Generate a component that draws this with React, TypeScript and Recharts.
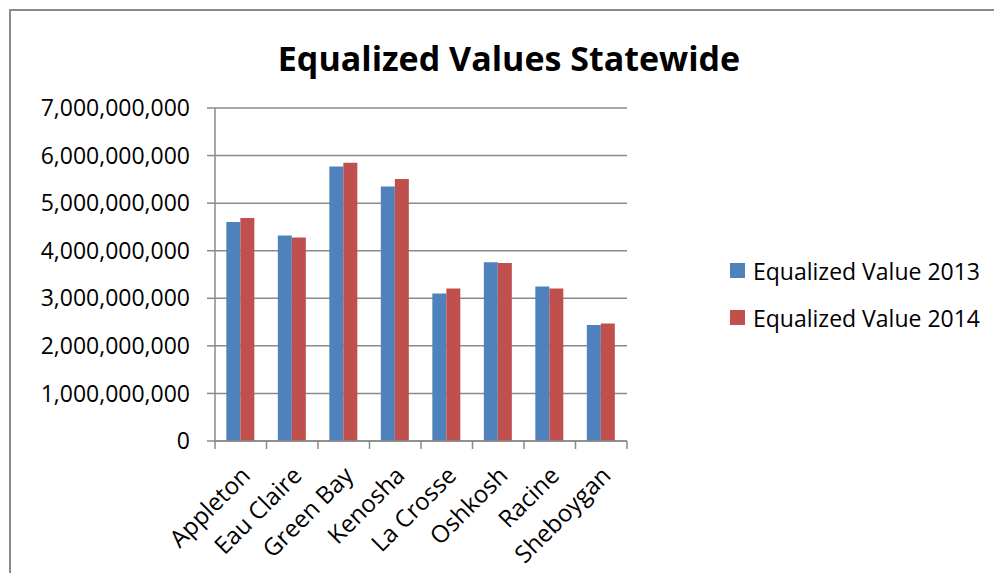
import { BarChart, Bar, XAxis, YAxis, CartesianGrid, Legend } from "recharts";

const cities = [
  "Appleton",
  "Eau Claire",
  "Green Bay",
  "Kenosha",
  "La Crosse",
  "Oshkosh",
  "Racine",
  "Sheboygan",
];
const value2013 = [
  4605000000, 4320000000, 5770000000, 5350000000, 3100000000, 3760000000,
  3250000000, 2440000000,
];
const value2014 = [
  4690000000, 4280000000, 5850000000, 5510000000, 3205000000, 3740000000,
  3205000000, 2470000000,
];
const yTicks = [0, 1e9, 2e9, 3e9, 4e9, 5e9, 6e9, 7e9];

const seriesNames = ["Equalized Value 2013", "Equalized Value 2014"];
const colors = ["#4F81BD", "#C0504D"];

const data = cities.map((city, i) => ({
  city,
  [seriesNames[0]]: value2013[i],
  [seriesNames[1]]: value2014[i],
}));

const FONT = "'Open Sans', sans-serif";
const GRID = "#8a8a8a";

// x labels rotated like excel, ticks drawn between categories
const CityTick = (props: any) => {
  const { x, y, payload, index, visibleTicksCount } = props;
  const half = payload?.offset ?? 25.7;
  const last = index === visibleTicksCount - 1;
  const ax = x + 11;
  const ay = y + 36;
  return (
    <g>
      <line x1={x - half} y1={y} x2={x - half} y2={y + 8} stroke={GRID} strokeWidth={1.5} />
      {last && (
        <line x1={x + half} y1={y} x2={x + half} y2={y + 8} stroke={GRID} strokeWidth={1.5} />
      )}
      <text
        x={ax}
        y={ay}
        textAnchor="end"
        transform={`rotate(-45, ${ax}, ${ay})`}
        fontFamily={FONT}
        fontSize={24}
        fill="#000"
      >
        {payload.value}
      </text>
    </g>
  );
};

const LegendBox = () => (
  <div style={{ fontFamily: FONT, fontSize: 23, color: "#000" }}>
    {seriesNames.map((name, i) => (
      <div key={name} style={{ display: "flex", alignItems: "center", height: 47 }}>
        <span
          style={{
            display: "inline-block",
            width: 15,
            height: 15,
            background: colors[i],
            marginRight: 8,
          }}
        />
        <span>{name}</span>
      </div>
    ))}
  </div>
);

export default function App() {
  return (
    <div
      style={{
        position: "absolute",
        left: 0,
        top: 0,
        width: 994,
        height: 573,
        overflow: "hidden",
        background: "#fff",
      }}
    >
      <div
        style={{
          position: "absolute",
          left: 9,
          top: 9,
          width: 1100,
          height: 700,
          borderLeft: "2px solid #8a8a8a",
          borderTop: "2px solid #8a8a8a",
        }}
      />
      <div
        style={{
          position: "absolute",
          left: 0,
          width: 1018,
          top: 35,
          textAlign: "center",
          fontFamily: FONT,
          fontWeight: 700,
          fontSize: 34,
          lineHeight: "normal",
        }}
      >
        Equalized Values Statewide
      </div>
      <div style={{ position: "absolute", left: 0, top: 0 }}>
        <BarChart
          width={994}
          height={573}
          data={data}
          margin={{ top: 108, right: 367, left: 0, bottom: 0 }}
          barCategoryGap="22%"
          barGap={0}
        >
          <CartesianGrid vertical={false} stroke={GRID} strokeWidth={1.5} />
          <XAxis
            dataKey="city"
            height={132}
            interval={0}
            tickSize={0}
            tickMargin={0}
            tickLine={false}
            axisLine={{ stroke: GRID, strokeWidth: 1.5 }}
            tick={<CityTick />}
          />
          <YAxis
            width={215}
            domain={[0, 7e9]}
            ticks={yTicks}
            interval={0}
            tickSize={8}
            tickMargin={17}
            tickLine={{ stroke: GRID, strokeWidth: 1.5 }}
            axisLine={{ stroke: GRID, strokeWidth: 1.5 }}
            tick={{ fontFamily: FONT, fontSize: 23, fill: "#000" }}
            tickFormatter={(v: number) => v.toLocaleString("en-US")}
          />
          <Legend
            layout="vertical"
            align="center"
            verticalAlign="middle"
            wrapperStyle={{ left: 730, top: 247, width: 264 }}
            content={<LegendBox />}
          />
          {seriesNames.map((name, i) => (
            <Bar key={name} dataKey={name} fill={colors[i]} isAnimationActive={false} />
          ))}
        </BarChart>
      </div>
    </div>
  );
}
